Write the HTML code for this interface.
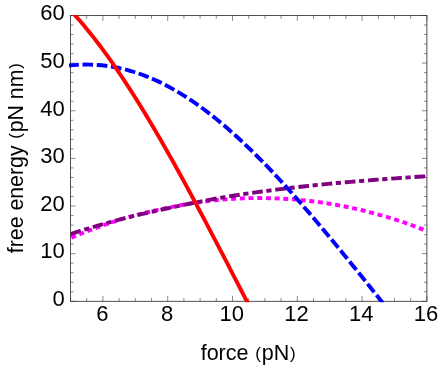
<!DOCTYPE html>
<html><head><meta charset="utf-8"><style>
html,body{margin:0;padding:0;background:#fff;}
svg{display:block;will-change:transform;}
text{font-family:"Liberation Sans",sans-serif;font-size:22px;fill:#000;}
</style></head><body>
<svg width="443" height="369" viewBox="0 0 443 369">
<rect width="443" height="369" fill="#fff"/>
<defs><clipPath id="c"><rect x="68.90" y="15.00" width="359.00" height="287.20"/></clipPath></defs>
<path d="M70.50,301.30v-3.3M70.50,15.50v3.3M86.70,301.30v-3.3M86.70,15.50v3.3M102.90,301.30v-5.4M102.90,15.50v5.4M119.10,301.30v-3.3M119.10,15.50v3.3M135.30,301.30v-3.3M135.30,15.50v3.3M151.50,301.30v-3.3M151.50,15.50v3.3M167.70,301.30v-5.4M167.70,15.50v5.4M183.90,301.30v-3.3M183.90,15.50v3.3M200.10,301.30v-3.3M200.10,15.50v3.3M216.30,301.30v-3.3M216.30,15.50v3.3M232.50,301.30v-5.4M232.50,15.50v5.4M248.70,301.30v-3.3M248.70,15.50v3.3M264.90,301.30v-3.3M264.90,15.50v3.3M281.10,301.30v-3.3M281.10,15.50v3.3M297.30,301.30v-5.4M297.30,15.50v5.4M313.50,301.30v-3.3M313.50,15.50v3.3M329.70,301.30v-3.3M329.70,15.50v3.3M345.90,301.30v-3.3M345.90,15.50v3.3M362.10,301.30v-5.4M362.10,15.50v5.4M378.30,301.30v-3.3M378.30,15.50v3.3M394.50,301.30v-3.3M394.50,15.50v3.3M410.70,301.30v-3.3M410.70,15.50v3.3M426.90,301.30v-5.4M426.90,15.50v5.4M70.50,301.30h5.0M426.90,301.30h-5.0M70.50,291.77h3.0M426.90,291.77h-3.0M70.50,282.25h3.0M426.90,282.25h-3.0M70.50,272.72h3.0M426.90,272.72h-3.0M70.50,263.19h3.0M426.90,263.19h-3.0M70.50,253.67h5.0M426.90,253.67h-5.0M70.50,244.14h3.0M426.90,244.14h-3.0M70.50,234.61h3.0M426.90,234.61h-3.0M70.50,225.09h3.0M426.90,225.09h-3.0M70.50,215.56h3.0M426.90,215.56h-3.0M70.50,206.03h5.0M426.90,206.03h-5.0M70.50,196.51h3.0M426.90,196.51h-3.0M70.50,186.98h3.0M426.90,186.98h-3.0M70.50,177.45h3.0M426.90,177.45h-3.0M70.50,167.93h3.0M426.90,167.93h-3.0M70.50,158.40h5.0M426.90,158.40h-5.0M70.50,148.87h3.0M426.90,148.87h-3.0M70.50,139.35h3.0M426.90,139.35h-3.0M70.50,129.82h3.0M426.90,129.82h-3.0M70.50,120.29h3.0M426.90,120.29h-3.0M70.50,110.77h5.0M426.90,110.77h-5.0M70.50,101.24h3.0M426.90,101.24h-3.0M70.50,91.71h3.0M426.90,91.71h-3.0M70.50,82.19h3.0M426.90,82.19h-3.0M70.50,72.66h3.0M426.90,72.66h-3.0M70.50,63.13h5.0M426.90,63.13h-5.0M70.50,53.61h3.0M426.90,53.61h-3.0M70.50,44.08h3.0M426.90,44.08h-3.0M70.50,34.55h3.0M426.90,34.55h-3.0M70.50,25.03h3.0M426.90,25.03h-3.0M70.50,15.50h5.0M426.90,15.50h-5.0" stroke="#2a2a2a" stroke-width="0.55" fill="none"/>
<rect x="70.5" y="15.5" width="356.40" height="285.80" fill="none" stroke="#333" stroke-width="0.85"/>
<g clip-path="url(#c)" fill="none" stroke-width="3.9">
<path d="M71.27,237.82 L75.78,235.90 L80.28,234.03 L84.79,232.21 L89.29,230.45 L93.80,228.73 L98.30,227.06 L102.80,225.44 L107.31,223.88 L111.81,222.36 L116.32,220.90 L120.82,219.50 L125.33,218.14 L129.83,216.84 L134.34,215.59 L138.84,214.38 L143.35,213.23 L147.85,212.12 L152.36,211.06 L156.86,210.03 L161.37,209.05 L165.87,208.10 L170.38,207.19 L174.88,206.32 L179.39,205.48 L183.89,204.68 L188.40,203.91 L192.90,203.19 L197.40,202.51 L201.91,201.87 L206.41,201.28 L210.92,200.74 L215.42,200.25 L219.93,199.81 L224.43,199.42 L228.94,199.08 L233.44,198.79 L237.95,198.55 L242.45,198.36 L246.96,198.21 L251.46,198.11 L255.97,198.06 L260.47,198.06 L264.98,198.10 L269.48,198.19 L273.99,198.32 L278.49,198.50 L283.00,198.73 L287.50,199.00 L292.00,199.31 L296.51,199.68 L301.01,200.09 L305.52,200.54 L310.02,201.04 L314.53,201.59 L319.03,202.18 L323.54,202.82 L328.04,203.50 L332.55,204.24 L337.05,205.02 L341.56,205.85 L346.06,206.73 L350.57,207.66 L355.07,208.64 L359.58,209.67 L364.08,210.74 L368.59,211.87 L373.09,213.05 L377.60,214.28 L382.10,215.56 L386.60,216.89 L391.11,218.26 L395.61,219.69 L400.12,221.17 L404.62,222.70 L409.13,224.27 L413.63,225.90 L418.14,227.58 L422.64,229.31 L427.15,231.09" stroke="#ff00ff" stroke-dasharray="5,3.7"/>
<path d="M70.62,234.12 L75.14,232.64 L79.65,231.19 L84.16,229.76 L88.68,228.37 L93.19,227.00 L97.70,225.66 L102.21,224.35 L106.73,223.06 L111.24,221.81 L115.75,220.59 L120.27,219.39 L124.78,218.23 L129.29,217.09 L133.81,215.98 L138.32,214.89 L142.83,213.83 L147.34,212.79 L151.86,211.76 L156.37,210.75 L160.88,209.75 L165.40,208.77 L169.91,207.79 L174.42,206.83 L178.93,205.87 L183.45,204.93 L187.96,204.00 L192.47,203.08 L196.99,202.18 L201.50,201.30 L206.01,200.44 L210.53,199.61 L215.04,198.79 L219.55,198.00 L224.06,197.23 L228.58,196.48 L233.09,195.75 L237.60,195.05 L242.12,194.36 L246.63,193.69 L251.14,193.04 L255.66,192.40 L260.17,191.78 L264.68,191.18 L269.19,190.58 L273.71,189.99 L278.22,189.41 L282.73,188.85 L287.25,188.30 L291.76,187.77 L296.27,187.25 L300.78,186.74 L305.30,186.24 L309.81,185.75 L314.32,185.28 L318.84,184.81 L323.35,184.36 L327.86,183.92 L332.38,183.49 L336.89,183.06 L341.40,182.65 L345.91,182.25 L350.43,181.85 L354.94,181.47 L359.45,181.09 L363.97,180.72 L368.48,180.36 L372.99,180.01 L377.51,179.66 L382.02,179.32 L386.53,178.99 L391.04,178.66 L395.56,178.34 L400.07,178.03 L404.58,177.72 L409.10,177.42 L413.61,177.12 L418.12,176.82 L422.63,176.53 L427.15,176.24" stroke="#800080" stroke-dasharray="10.7,3.6,5.2,3.8"/>
<path d="M69.00,65.51 L73.08,65.12 L77.15,64.83 L81.23,64.64 L85.30,64.56 L89.38,64.58 L93.45,64.71 L97.53,64.95 L101.60,65.29 L105.67,65.75 L109.75,66.31 L113.82,66.98 L117.90,67.77 L121.97,68.66 L126.05,69.66 L130.12,70.78 L134.19,72.00 L138.27,73.34 L142.34,74.78 L146.42,76.33 L150.49,78.00 L154.57,79.76 L158.64,81.64 L162.72,83.62 L166.79,85.71 L170.86,87.90 L174.94,90.20 L179.01,92.60 L183.09,95.09 L187.16,97.69 L191.24,100.39 L195.31,103.18 L199.38,106.07 L203.46,109.05 L207.53,112.12 L211.61,115.28 L215.68,118.53 L219.76,121.87 L223.83,125.29 L227.91,128.80 L231.98,132.38 L236.05,136.05 L240.13,139.79 L244.20,143.61 L248.28,147.50 L252.35,151.46 L256.43,155.49 L260.50,159.58 L264.57,163.74 L268.65,167.97 L272.72,172.25 L276.80,176.59 L280.87,180.99 L284.95,185.44 L289.02,189.94 L293.10,194.49 L297.17,199.09 L301.24,203.73 L305.32,208.42 L309.39,213.14 L313.47,217.91 L317.54,222.71 L321.62,227.54 L325.69,232.41 L329.76,237.31 L333.84,242.23 L337.91,247.18 L341.99,252.16 L346.06,257.16 L350.14,262.17 L354.21,267.21 L358.29,272.26 L362.36,277.33 L366.43,282.41 L370.51,287.50 L374.58,292.61 L378.66,297.72 L382.73,302.84 L386.81,307.96 L390.88,313.09" stroke="#0000ff" stroke-dasharray="10.65,3.65" stroke-dashoffset="0.8"/>
<path d="M69.00,8.83 L71.36,11.32 L73.71,13.86 L76.06,16.46 L78.42,19.11 L80.77,21.82 L83.12,24.58 L85.47,27.39 L87.83,30.25 L90.18,33.16 L92.53,36.12 L94.89,39.13 L97.24,42.19 L99.59,45.29 L101.94,48.44 L104.30,51.64 L106.65,54.88 L109.00,58.16 L111.36,61.49 L113.71,64.86 L116.06,68.27 L118.41,71.73 L120.77,75.22 L123.12,78.76 L125.47,82.33 L127.82,85.94 L130.18,89.59 L132.53,93.28 L134.88,97.00 L137.24,100.75 L139.59,104.54 L141.94,108.37 L144.29,112.23 L146.65,116.12 L149.00,120.04 L151.35,123.99 L153.71,127.97 L156.06,131.98 L158.41,136.02 L160.76,140.09 L163.12,144.18 L165.47,148.30 L167.82,152.45 L170.18,156.62 L172.53,160.81 L174.88,165.03 L177.23,169.27 L179.59,173.53 L181.94,177.81 L184.29,182.12 L186.65,186.44 L189.00,190.78 L191.35,195.14 L193.70,199.52 L196.06,203.91 L198.41,208.32 L200.76,212.74 L203.11,217.18 L205.47,221.63 L207.82,226.09 L210.17,230.57 L212.53,235.06 L214.88,239.55 L217.23,244.06 L219.58,248.58 L221.94,253.10 L224.29,257.63 L226.64,262.17 L229.00,266.72 L231.35,271.27 L233.70,275.82 L236.05,280.38 L238.41,284.94 L240.76,289.51 L243.11,294.07 L245.47,298.64 L247.82,303.20 L250.17,307.77 L252.52,312.33 L254.88,316.89" stroke="#ff0000"/>
</g>
<text x="102.28" y="321.4" text-anchor="middle">6</text><text x="167.05" y="321.4" text-anchor="middle">8</text><text x="231.81" y="321.4" text-anchor="middle">10</text><text x="296.57" y="321.4" text-anchor="middle">12</text><text x="361.34" y="321.4" text-anchor="middle">14</text><text x="426.10" y="321.4" text-anchor="middle">16</text>
<text x="64.7" y="305.90" text-anchor="end">0</text><text x="64.7" y="258.30" text-anchor="end">10</text><text x="64.7" y="210.70" text-anchor="end">20</text><text x="64.7" y="163.10" text-anchor="end">30</text><text x="64.7" y="115.50" text-anchor="end">40</text><text x="64.7" y="67.90" text-anchor="end">50</text><text x="64.7" y="20.30" text-anchor="end">60</text>
<text x="200.7" y="360" style="font-size:21.5px">force <tspan style="font-size:17px" dx="0.7" dy="-1.4">(</tspan><tspan dx="0.9" dy="1.4">pN</tspan><tspan style="font-size:17px" dx="0.7" dy="-1.4">)</tspan></text>
<text transform="translate(22.8,253.2) rotate(-90)" style="font-size:21.3px">free energy <tspan style="font-size:17px" dx="0.7" dy="-1.4">(</tspan><tspan dx="0.9" dy="1.4">pN nm</tspan><tspan style="font-size:17px" dx="0.7" dy="-1.4">)</tspan></text>
</svg>
</body></html>
